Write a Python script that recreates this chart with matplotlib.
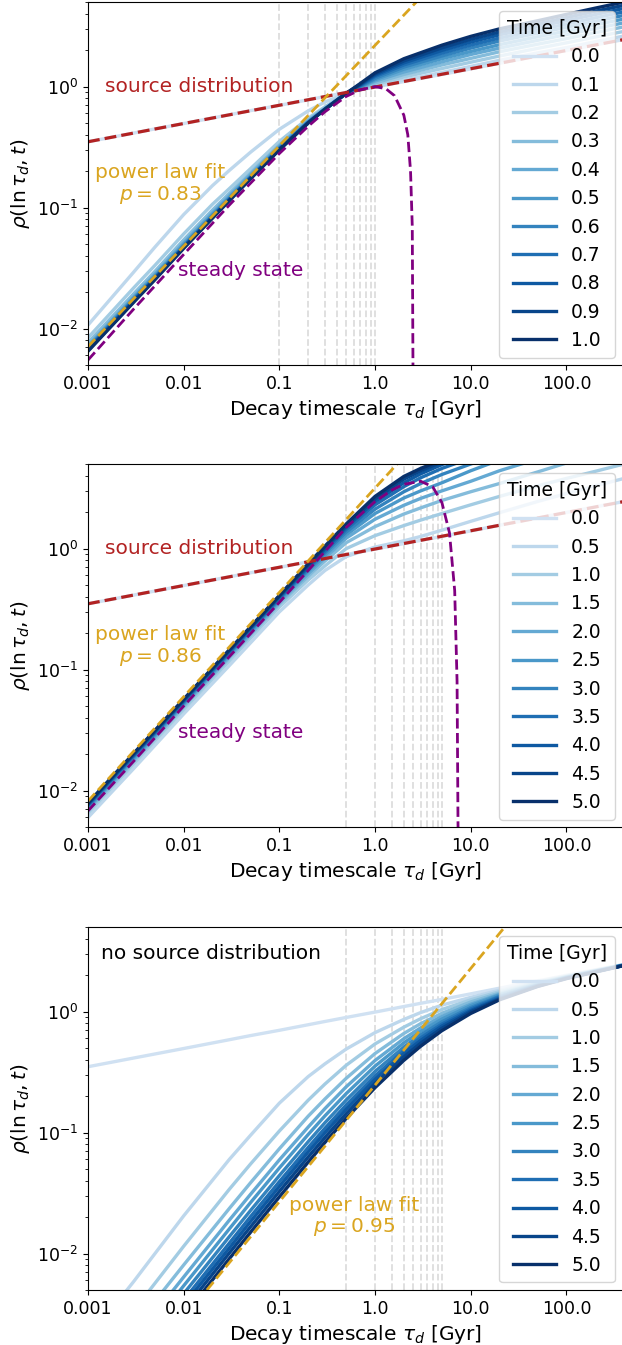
import numpy as np
import matplotlib.pyplot as plt

# source distribution (straight in log-log)
src_tau = [0.001, 400]
src_rho = [0.35, 2.45]

# ---- panel 1: with source, t up to 1 Gyr ----
tau1 = [0.001, 0.003, 0.005, 0.01, 0.02, 0.03, 0.05, 0.1, 0.2, 0.3, 0.5, 0.7, 1, 2, 5, 10, 20, 50, 100, 200, 400]
times1 = [0.0, 0.1, 0.2, 0.3, 0.4, 0.5, 0.6, 0.7, 0.8, 0.9, 1.0]
rho1 = [
    [0.35, 0.413, 0.447, 0.495, 0.55, 0.585, 0.633, 0.70, 0.778, 0.828, 0.894, 0.942, 0.99, 1.10, 1.26, 1.40, 1.56, 1.79, 1.99, 2.21, 2.45],
    [0.0107, 0.0293, 0.0471, 0.0876, 0.152, 0.203, 0.287, 0.444, 0.63, 0.746, 0.88, 0.94, 1.00, 1.13, 1.31, 1.47, 1.65, 1.90, 2.10, 2.35, 2.62],
    [0.0084, 0.0217, 0.0333, 0.0606, 0.1066, 0.1435, 0.210, 0.3525, 0.548, 0.681, 0.88, 0.95, 1.04, 1.20, 1.41, 1.59, 1.79, 2.07, 2.30, 2.57, 2.86],
    [0.00764, 0.0194, 0.0297, 0.0541, 0.0955, 0.131, 0.194, 0.329, 0.530, 0.665, 0.88, 0.96, 1.07, 1.26, 1.51, 1.71, 1.94, 2.24, 2.49, 2.79, 3.12],
    [0.00721, 0.0183, 0.0281, 0.051, 0.0903, 0.125, 0.1875, 0.322, 0.518, 0.658, 0.88, 0.975, 1.11, 1.32, 1.60, 1.84, 2.08, 2.41, 2.69, 3.01, 3.37],
    [0.00701, 0.0178, 0.0273, 0.0493, 0.0873, 0.121, 0.182, 0.314, 0.512, 0.65, 0.88, 0.99, 1.14, 1.39, 1.70, 1.95, 2.22, 2.58, 2.88, 3.24, 3.62],
    [0.00688, 0.0175, 0.0267, 0.0484, 0.0857, 0.119, 0.1795, 0.309, 0.507, 0.65, 0.88, 1.00, 1.17, 1.45, 1.79, 2.08, 2.38, 2.76, 3.09, 3.47, 3.88],
    [0.00677, 0.0172, 0.0263, 0.0477, 0.0846, 0.117, 0.1774, 0.306, 0.505, 0.65, 0.88, 1.015, 1.21, 1.51, 1.89, 2.20, 2.52, 2.93, 3.29, 3.70, 4.15],
    [0.00668, 0.0170, 0.0260, 0.0472, 0.0837, 0.116, 0.176, 0.304, 0.503, 0.65, 0.88, 1.03, 1.24, 1.57, 1.99, 2.33, 2.68, 3.12, 3.51, 3.94, 4.43],
    [0.00659, 0.0167, 0.0257, 0.0466, 0.0826, 0.115, 0.1744, 0.302, 0.501, 0.65, 0.88, 1.045, 1.27, 1.63, 2.09, 2.46, 2.83, 3.30, 3.72, 4.19, 4.70],
    [0.0065, 0.0165, 0.0253, 0.046, 0.0818, 0.114, 0.173, 0.30, 0.50, 0.65, 0.88, 1.06, 1.30, 1.70, 2.20, 2.60, 3.00, 3.50, 3.95, 4.45, 5.00],
]
ss1_tau = [0.001, 0.003, 0.01, 0.03, 0.1, 0.2, 0.3, 0.5, 0.7, 1.0, 1.3, 1.6, 2.0, 2.2, 2.35, 2.45, 2.5]
ss1_rho = [0.0055, 0.0145, 0.041, 0.105, 0.28, 0.47, 0.62, 0.83, 0.94, 1.0, 0.96, 0.84, 0.58, 0.40, 0.20, 0.07, 0.003]
fit1_tau = [0.001, 2.7]
fit1_rho = [0.0071, 5.0]

# ---- panel 2: with source, t up to 5 Gyr ----
tau2 = [0.001, 0.003, 0.01, 0.03, 0.1, 0.2, 0.3, 0.5, 1, 2, 3, 5, 10, 20, 50, 100, 200, 400]
times2 = [0.0, 0.5, 1.0, 1.5, 2.0, 2.5, 3.0, 3.5, 4.0, 4.5, 5.0]
rho2 = [
    [0.35, 0.413, 0.495, 0.585, 0.70, 0.778, 0.828, 0.894, 0.99, 1.10, 1.17, 1.26, 1.40, 1.56, 1.79, 1.99, 2.21, 2.45],
    [0.0060, 0.0152, 0.043, 0.108, 0.30, 0.50, 0.66, 0.86, 1.03, 1.16, 1.26, 1.42, 1.68, 1.98, 2.45, 2.85, 3.30, 3.80],
    [0.00652, 0.0166, 0.0468, 0.118, 0.329, 0.55, 0.72, 1.00, 1.28, 1.55, 1.72, 1.95, 2.30, 2.70, 3.30, 3.80, 4.35, 5.00],
    [0.00685, 0.0175, 0.0492, 0.125, 0.349, 0.59, 0.79, 1.12, 1.52, 1.93, 2.17, 2.50, 2.95, 3.45, 4.30, 5.10, 5.80, 6.60],
    [0.00707, 0.0181, 0.0509, 0.129, 0.362, 0.62, 0.84, 1.22, 1.75, 2.28, 2.60, 3.00, 3.60, 4.40, 5.50, 6.40, 7.30, 8.30],
    [0.00727, 0.0186, 0.0523, 0.133, 0.374, 0.65, 0.88, 1.30, 1.95, 2.62, 3.00, 3.50, 4.40, 5.40, 6.70, 7.80, 9.00, 10.3],
    [0.00743, 0.0191, 0.0535, 0.137, 0.383, 0.67, 0.92, 1.37, 2.12, 2.95, 3.45, 4.10, 5.00, 6.00, 7.40, 8.60, 10.0, 11.5],
    [0.00757, 0.0194, 0.0545, 0.139, 0.391, 0.69, 0.95, 1.44, 2.30, 3.25, 3.85, 4.60, 5.60, 6.70, 8.20, 9.60, 11.0, 12.8],
    [0.00768, 0.0197, 0.0554, 0.142, 0.398, 0.71, 0.99, 1.50, 2.45, 3.50, 4.15, 4.95, 6.00, 7.20, 8.80, 10.3, 12.0, 14.0],
    [0.00779, 0.0201, 0.0562, 0.144, 0.405, 0.73, 1.02, 1.55, 2.58, 3.75, 4.40, 5.20, 6.30, 7.60, 9.30, 10.9, 12.8, 15.0],
    [0.0079, 0.0203, 0.057, 0.146, 0.41, 0.75, 1.05, 1.60, 2.70, 3.95, 4.60, 5.40, 6.60, 7.90, 9.80, 11.5, 13.5, 16.0],
]
ss2_tau = [0.001, 0.003, 0.01, 0.03, 0.1, 0.2, 0.3, 0.5, 1.0, 1.5, 2.0, 3.0, 4.0, 5.0, 6.0, 6.8, 7.2, 7.4]
ss2_rho = [0.0068, 0.0175, 0.050, 0.128, 0.36, 0.66, 0.95, 1.5, 2.45, 3.05, 3.4, 3.6, 3.25, 2.4, 1.35, 0.45, 0.08, 0.003]
fit2_tau = [0.001, 1.7]
fit2_rho = [0.0082, 5.0]

# ---- panel 3: no source ----
tau3 = [0.001, 0.003, 0.01, 0.03, 0.05, 0.1, 0.2, 0.3, 0.5, 1, 2, 3, 5, 10, 20, 50, 100, 400]
times3 = times2
rho3 = [
    [0.35, 0.413, 0.495, 0.585, 0.633, 0.70, 0.778, 0.828, 0.894, 0.99, 1.10, 1.17, 1.26, 1.40, 1.56, 1.79, 1.99, 2.45],
    [0.00197, 0.00587, 0.0205, 0.060, 0.095, 0.175, 0.29, 0.37, 0.49, 0.67, 0.861, 0.981, 1.13, 1.31, 1.50, 1.76, 1.97, 2.44],
    [0.00113, 0.00337, 0.0115, 0.034, 0.055, 0.103, 0.185, 0.252, 0.36, 0.54, 0.743, 0.873, 1.04, 1.25, 1.46, 1.74, 1.95, 2.44],
    [0.00081, 0.00243, 0.00805, 0.0236, 0.0385, 0.0735, 0.1365, 0.1897, 0.281, 0.450, 0.659, 0.795, 0.967, 1.20, 1.42, 1.72, 1.94, 2.43],
    [0.000646, 0.00194, 0.0064, 0.0189, 0.0309, 0.0595, 0.111, 0.158, 0.239, 0.394, 0.597, 0.733, 0.911, 1.15, 1.39, 1.70, 1.93, 2.43],
    [0.000546, 0.00164, 0.00542, 0.016, 0.0264, 0.051, 0.0963, 0.1376, 0.210, 0.354, 0.551, 0.686, 0.867, 1.12, 1.37, 1.68, 1.92, 2.42],
    [0.000468, 0.0014, 0.00466, 0.0138, 0.0227, 0.0441, 0.084, 0.1207, 0.186, 0.320, 0.508, 0.642, 0.823, 1.08, 1.34, 1.66, 1.91, 2.42],
    [0.000414, 0.00124, 0.00412, 0.0122, 0.0202, 0.0393, 0.0752, 0.1087, 0.169, 0.294, 0.475, 0.606, 0.788, 1.05, 1.32, 1.65, 1.90, 2.41],
    [0.000377, 0.00113, 0.00376, 0.0111, 0.0184, 0.0359, 0.0691, 0.100, 0.156, 0.275, 0.450, 0.578, 0.760, 1.02, 1.29, 1.64, 1.89, 2.41],
    [0.00034, 0.00102, 0.00339, 0.0101, 0.01664, 0.0326, 0.0628, 0.0912, 0.143, 0.255, 0.422, 0.548, 0.728, 0.995, 1.27, 1.62, 1.88, 2.41],
    [0.000305, 0.000916, 0.00305, 0.00907, 0.0150, 0.0294, 0.057, 0.083, 0.131, 0.235, 0.395, 0.517, 0.695, 0.964, 1.25, 1.61, 1.87, 2.40],
]
fit3_tau = [0.0175, 22.7]
fit3_rho = [0.005, 5.0]

xticks = [0.001, 0.01, 0.1, 1, 10, 100]
xticklabels = ['0.001', '0.01', '0.1', '1.0', '10.0', '100.0']

colors = plt.cm.Blues(np.linspace(0.2, 1.0, 11))


def setup_axes(ax):
    ax.set_xscale('log')
    ax.set_yscale('log')
    ax.set_xlim(0.001, 400)
    ax.set_ylim(0.005, 5)
    ax.set_xticks(xticks)
    ax.set_xticklabels(xticklabels)
    ax.xaxis.set_minor_locator(plt.NullLocator())
    ax.tick_params(labelsize=12.5)
    ax.set_xlabel(r'Decay timescale $\tau_d$ [Gyr]', fontsize=14.5)
    ax.set_ylabel(r'$\rho(\ln\tau_d, t)$', fontsize=14.5)


def draw_curves(ax, tau, times, rho):
    for t in times[1:]:
        ax.axvline(t, color='#dddddd', ls='--', lw=1.3, zorder=0)
    for i, t in enumerate(times):
        ax.plot(tau, rho[i], color=colors[i], lw=2.4, label=f'{t:.1f}')
    ax.legend(title='Time [Gyr]', loc='upper right', fontsize=13.5,
              title_fontsize=13.5, handlelength=2.3, labelspacing=0.5)


fig = plt.figure(figsize=(6.22, 13.45), dpi=100)
ax1 = fig.add_axes([0.1415, 0.7286, 0.8617, 0.2699])
ax2 = fig.add_axes([0.1415, 0.3851, 0.8617, 0.2699])
ax3 = fig.add_axes([0.1415, 0.0409, 0.8617, 0.2699])

for ax, tau, times, rho, ss_tau, ss_rho, fit_tau, fit_rho, p in [
        (ax1, tau1, times1, rho1, ss1_tau, ss1_rho, fit1_tau, fit1_rho, '0.83'),
        (ax2, tau2, times2, rho2, ss2_tau, ss2_rho, fit2_tau, fit2_rho, '0.86')]:
    setup_axes(ax)
    draw_curves(ax, tau, times, rho)
    ax.plot(src_tau, src_rho, color='firebrick', ls='--', lw=2.3)
    ax.plot(ss_tau, ss_rho, color='purple', ls='--', lw=2)
    ax.plot(fit_tau, fit_rho, color='goldenrod', ls='--', lw=2)
    ax.text(0.0015, 1.0, 'source distribution', color='firebrick', fontsize=14.5, va='center')
    ax.text(0.0057, 0.155, 'power law fit\n$p = %s$' % p, color='goldenrod', fontsize=14.5,
            ha='center', va='center', linespacing=1.1)
    ax.text(0.0087, 0.0305, 'steady state', color='purple', fontsize=14.5, va='center')

setup_axes(ax3)
draw_curves(ax3, tau3, times3, rho3)
ax3.plot(fit3_tau, fit3_rho, color='goldenrod', ls='--', lw=2)
ax3.text(0.024, 0.928, 'no source distribution', transform=ax3.transAxes, fontsize=14.5, va='center')
ax3.text(0.60, 0.020, 'power law fit\n$p = 0.95$', color='goldenrod', fontsize=14.5,
         ha='center', va='center', linespacing=1.1)

fig.savefig('out.png', dpi=100)
